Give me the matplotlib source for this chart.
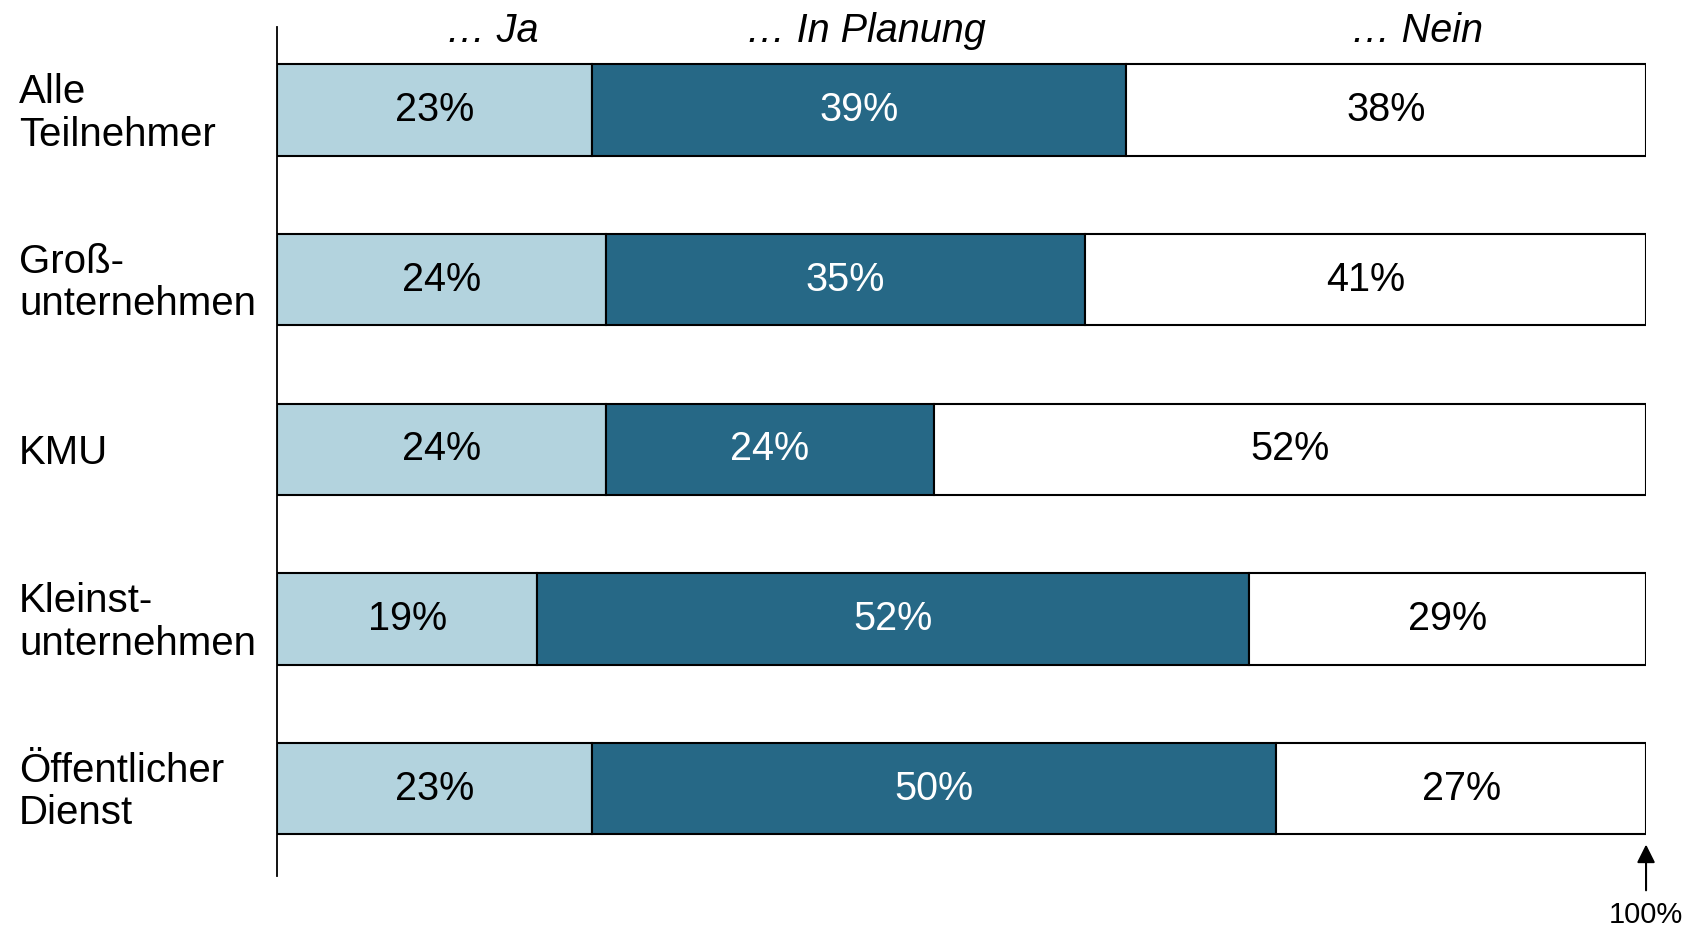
import numpy as np
import matplotlib
matplotlib.use("Agg")
from matplotlib import pyplot as plt
from matplotlib import transforms

plt.rcParams['font.family'] = ['Liberation Sans', 'DejaVu Sans']

categories = ["Alle\nTeilnehmer", "Groß-\nunternehmen", "KMU",
              "Kleinst-\nunternehmen", "Öffentlicher\nDienst"]
ja = [23, 24, 24, 19, 23]
planung = [39, 35, 24, 52, 50]
nein = [38, 41, 52, 29, 27]
headers = ["… Ja", "… In Planung", "… Nein"]
header_x = [15.7, 43.0, 83.3]

col_ja = "#b3d3de"
col_plan = "#266886"
col_nein = "#ffffff"

fig = plt.figure(figsize=(16.86, 9.30), dpi=100)
ax = fig.add_axes([0.1643, 0.058, 0.812, 0.913])

y = np.arange(len(categories))
h = 0.54
left = np.zeros(len(categories))
for vals, col, tcol in [(ja, col_ja, "black"), (planung, col_plan, "white"),
                        (nein, col_nein, "black")]:
    vals = np.array(vals, dtype=float)
    ax.barh(y, vals, left=left, height=h, color=col, edgecolor="black", linewidth=1.5)
    for yi, l, v in zip(y, left, vals):
        ax.text(l + v / 2, yi, f"{int(v)}%", ha="center", va="center",
                fontsize=28.5, color=tcol)
    left += vals

ax.set_xlim(0, 100)
ax.set_ylim(4.516, -0.49)
for s in ["top", "right", "bottom"]:
    ax.spines[s].set_visible(False)
ax.spines["left"].set_linewidth(1.3)
ax.set_xticks([])
ax.set_yticks([])

# category labels, left aligned at figure edge
trans = transforms.blended_transform_factory(fig.transFigure, ax.transData)
for yi, c in zip(y, categories):
    ax.text(0.0113, yi + 0.02, c, transform=trans, ha="left", va="center",
            fontsize=29, linespacing=1.15)

# column headers
for x, t in zip(header_x, headers):
    ax.text(x, -0.465, t, ha="center", va="center", fontsize=28.5,
            style="italic", clip_on=False)

# 100% arrow
ax.annotate("", xy=(100, 4.33), xytext=(100, 4.6), annotation_clip=False,
            arrowprops=dict(arrowstyle="-|>,head_length=1.1,head_width=0.55",
                            color="black", lw=1.5, shrinkA=0, shrinkB=0))
ax.text(100, 4.79, "100%", ha="center", va="baseline", fontsize=21, clip_on=False)

fig.savefig("out.png", dpi=100)
